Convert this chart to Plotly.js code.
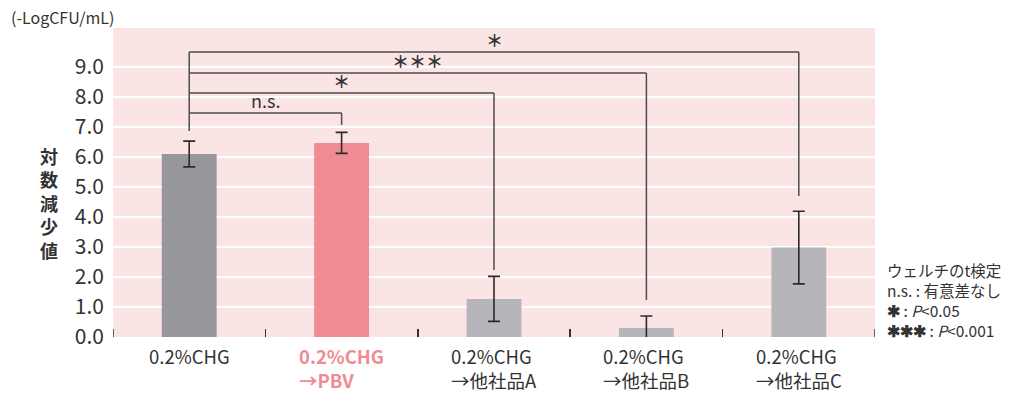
<!DOCTYPE html>
<html><head><meta charset="utf-8">
<script src="https://cdn.plot.ly/plotly-3.0.1.min.js"></script>
<style>body{margin:0;background:#fff}#chart{width:1028px;height:394px}</style>
</head><body><div id="chart"></div>
<script>
// ---- data ----
const categories = ['0.2%CHG', '0.2%CHG<br>→PBV', '0.2%CHG<br>→他社品A', '0.2%CHG<br>→他社品B', '0.2%CHG<br>→他社品C'];
const values = [6.10, 6.47, 1.27, 0.30, 2.98];
const errors = [0.43, 0.35, 0.75, 0.40, 1.21];
const barColors = ['#97979b', '#f08b93', '#b5b5ba', '#b5b5ba', '#b5b5ba'];
const labelColors = ['#333333', '#f08b93', '#333333', '#333333', '#333333'];
const yTicks = [0, 1, 2, 3, 4, 5, 6, 7, 8, 9];
// significance brackets: from first bar to target bar
const bracketTarget = [1, 2, 3, 4];
const bracketY = [7.47, 8.13, 8.80, 9.50];
const bracketEnd = [7.07, 2.23, 1.23, 4.70];
const bracketLabels = ['n.s.', '＊', '＊＊＊', '＊'];
const bracketBase = 6.87;
const yUnit = '(-LogCFU/mL)';
const yTitle = '対<br>数<br>減<br>少<br>値';
const noteLines = ['ウェルチのt検定', 'n.s. : 有意差なし', '<b>✱</b> : <i>P</i>&lt;0.05', '<b>✱✱✱</b> : <i>P</i>&lt;0.001'];

const FONT = '"Noto Sans CJK JP", "Noto Sans", sans-serif';
const TXT = '#333333';
const LINE = '#4d4d4d';

const trace = {
  type: 'bar', x: categories, y: values, width: 0.36,
  marker: {color: barColors, line: {width: 0}},
  error_y: {type: 'data', array: errors, visible: true, color: '#2b2b2b', thickness: 1.6, width: 6},
  cliponaxis: false, hoverinfo: 'skip'
};

const shapes = [];
const annotations = [];
shapes.push({type: 'line', xref: 'x', yref: 'y', x0: categories[0], x1: categories[0], y0: bracketBase, y1: Math.max(...bracketY), line: {color: LINE, width: 1.5}});
bracketTarget.forEach((t, i) => {
  shapes.push({type: 'line', xref: 'x', yref: 'y', x0: categories[0], x1: categories[t], y0: bracketY[i], y1: bracketY[i], line: {color: LINE, width: 1.5}});
  shapes.push({type: 'line', xref: 'x', yref: 'y', x0: categories[t], x1: categories[t], y0: bracketY[i], y1: bracketEnd[i], line: {color: LINE, width: 1.5}});
  annotations.push({xref: 'x', yref: 'y', x: t / 2, y: bracketY[i], yanchor: 'bottom', xanchor: 'center', showarrow: false,
    text: i === 0 ? bracketLabels[i] : '<b>' + bracketLabels[i] + '</b>', yshift: -2,
    font: {family: FONT, size: i === 0 ? 18 : 17, color: TXT}});
});
// edge ticks of the category axis (left and right boundaries)
[-0.5, 4.5].forEach(xv => {
  shapes.push({type: 'line', xref: 'x', yref: 'y', x0: xv, x1: xv, y0: 0, y1: 0.27, line: {color: '#333', width: 1.5}});
});
// x labels
categories.forEach((c, i) => {
  annotations.push({xref: 'x', yref: 'paper', x: c, y: -0.012, yanchor: 'top', xanchor: 'center', align: 'left', showarrow: false,
    text: i === 1 ? '<b>' + c + '</b>' : c, font: {family: FONT, size: 18.5, color: labelColors[i]}});
});
// y unit
annotations.push({xref: 'paper', yref: 'paper', x: -0.137, y: 1.035, xanchor: 'left', yanchor: 'middle', showarrow: false,
  text: yUnit, font: {family: FONT, size: 16, color: TXT}});
// vertical y title
annotations.push({xref: 'paper', yref: 'paper', x: (49 - 113) / 762, y: (337 - 203) / 309, xanchor: 'center', yanchor: 'middle', showarrow: false,
  text: '<b>' + yTitle + '</b>', font: {family: FONT, size: 18, color: TXT}});
// notes (one block)
annotations.push({xref: 'paper', yref: 'paper', x: (885 - 113) / 762, y: (337 - 300) / 309, xanchor: 'left', yanchor: 'middle', align: 'left', showarrow: false,
  text: noteLines.join('<br>'), font: {family: FONT, size: 15.5, color: TXT}});

const layout = {
  width: 1028, height: 394,
  margin: {l: 113, r: 153, t: 28, b: 57},
  paper_bgcolor: '#ffffff', plot_bgcolor: '#fbe4e4',
  showlegend: false, bargap: 0.64,
  xaxis: {type: 'category', range: [-0.5, 4.5], showticklabels: false, tickson: 'boundaries',
    ticks: 'inside', ticklen: 8, tickwidth: 1.5, tickcolor: '#333', showgrid: false, showline: false, zeroline: false},
  yaxis: {range: [0, 10.3], tickvals: yTicks, tickformat: '.1f', showgrid: true, gridcolor: '#ffffff', gridwidth: 1.5,
    zeroline: false, showline: false, ticks: '', ticklabelstandoff: 8,
    tickfont: {family: FONT, size: 21, color: TXT}},
  shapes: shapes, annotations: annotations,
  font: {family: FONT, color: TXT}
};
Plotly.newPlot('chart', [trace], layout, {displayModeBar: false, staticPlot: true});
</script></body></html>
